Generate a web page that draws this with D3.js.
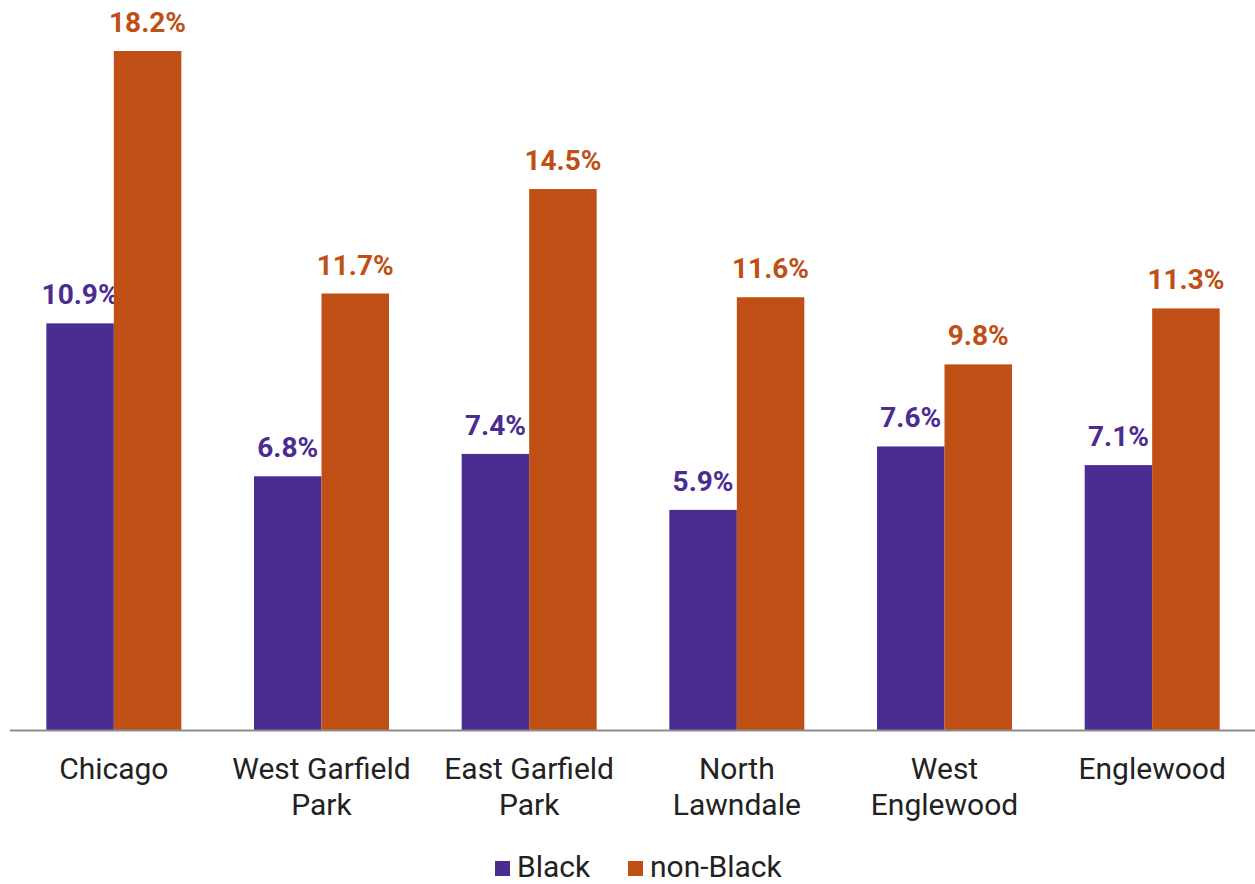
<!DOCTYPE html>
<html><head><meta charset="utf-8">
<script src="https://cdn.jsdelivr.net/npm/d3@7"></script>
<style>body{margin:0;background:#fff;}svg{display:block;font-family:Roboto,"Noto Sans",sans-serif;}</style>
</head><body>
<svg id="chart" width="1255" height="884"></svg>
<script>
const categories = [["Chicago"],["West Garfield","Park"],["East Garfield","Park"],["North","Lawndale"],["West","Englewood"],["Englewood"]];
const seriesNames = ["Black","non-Black"];
const black = [10.9, 6.8, 7.4, 5.9, 7.6, 7.1];
const nonBlack = [18.2, 11.7, 14.5, 11.6, 9.8, 11.3];
const colors = ["#4B2C91","#C04F15"];

const svg = d3.select("#chart");
const baseY = 730;
const keys = categories.map((c,i)=>i);
const x0 = d3.scaleBand().domain(keys).range([10,1256]).paddingInner(0.35).paddingOuter(0.175);
const x1 = d3.scaleBand().domain([0,1]).range([0,x0.bandwidth()]);
const y = d3.scaleLinear().domain([0,18.2]).range([baseY,51]);
const series = [black, nonBlack];

keys.forEach(i=>{
  const g = svg.append("g").attr("transform",`translate(${x0(i)},0)`);
  series.forEach((s,k)=>{
    g.append("rect").attr("x",x1(k)).attr("width",x1.bandwidth())
      .attr("y",y(s[i])).attr("height",baseY-y(s[i])).attr("fill",colors[k]);
    g.append("text").attr("x",x1(k)+x1.bandwidth()/2).attr("y",y(s[i])-19)
      .attr("text-anchor","middle").attr("font-size",28).attr("font-weight",700)
      .attr("fill",colors[k]).text(s[i].toFixed(1)+"%");
  });
  const t = svg.append("text").attr("x",x0(i)+x0.bandwidth()/2).attr("y",779)
    .attr("text-anchor","middle").attr("font-size",30).attr("fill","#222");
  categories[i].forEach((line,j)=>{
    t.append("tspan").attr("x",x0(i)+x0.bandwidth()/2).attr("dy",j?36:0).text(line);
  });
});

svg.append("line").attr("x1",10).attr("x2",1255).attr("y1",baseY+0.5).attr("y2",baseY+0.5)
  .attr("stroke","#8c8c8c").attr("stroke-width",2);

// legend
const legend = [{x:495,tx:517},{x:628,tx:650}];
seriesNames.forEach((n,k)=>{
  svg.append("rect").attr("x",legend[k].x).attr("y",861).attr("width",15).attr("height",15).attr("fill",colors[k]);
  svg.append("text").attr("x",legend[k].tx).attr("y",877).attr("font-size",30).attr("fill","#222").text(n);
});
</script>
</body></html>
